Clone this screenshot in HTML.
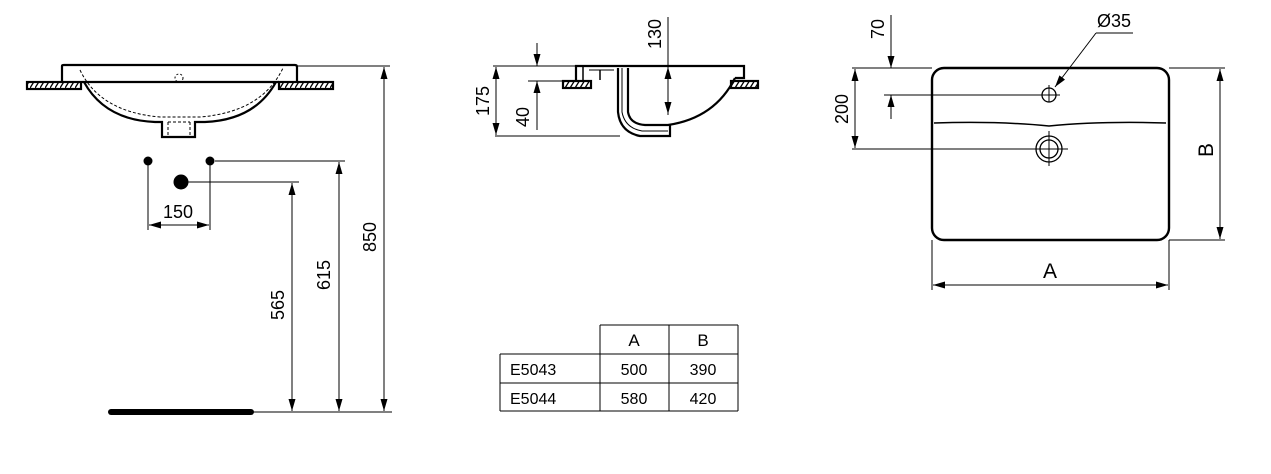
<!DOCTYPE html>
<html><head><style>
html,body{margin:0;padding:0;background:#fff;}
svg{display:block;font-family:"Liberation Sans",Arial,sans-serif;}
</style></head><body>
<svg width="1271" height="474" viewBox="0 0 1271 474" xmlns="http://www.w3.org/2000/svg">
<defs>
<marker id="ae" viewBox="0 0 12 7" refX="12" refY="3.5" markerWidth="12" markerHeight="7" orient="auto" markerUnits="userSpaceOnUse"><path d="M0,0 L12,3.5 L0,7 z" fill="#000"/></marker>
<marker id="as" viewBox="0 0 12 7" refX="0" refY="3.5" markerWidth="12" markerHeight="7" orient="auto" markerUnits="userSpaceOnUse"><path d="M12,0 L0,3.5 L12,7 z" fill="#000"/></marker>
<pattern id="hat" width="5" height="8" patternUnits="userSpaceOnUse"><rect width="5" height="8" fill="#fff"/><path d="M0,8 L5,0" stroke="#000" stroke-width="1.3"/></pattern>
</defs>
<g stroke="#000" fill="none">
<!-- LEFT VIEW -->
<rect x="27" y="82" width="54" height="7" fill="url(#hat)" stroke-width="2.2"/>
<rect x="279" y="82" width="54" height="7" fill="url(#hat)" stroke-width="2.2"/>
<path d="M62,82 L62,66 Q62,65 64,65 L295,65 Q297,65 297,67 L297,82" stroke-width="2.2"/>
<line x1="82" y1="82" x2="279" y2="82" stroke-width="2.2"/>
<path d="M84,82 Q105,120 155,122 L162,122 L162,137 L195,137 L195,122 L205,122 Q255,120 276,82" stroke-width="2.2"/>
<path d="M80,70 Q100,112 160,117 L200,117 Q262,112 283,68" stroke-dasharray="3,2" stroke-width="1"/>
<path d="M168,122 L168,135 M190,122 L190,135 M168,122 L190,122" stroke-dasharray="3,2" stroke-width="1"/>
<circle cx="179" cy="78" r="4" stroke-dasharray="2,2" stroke-width="1"/>
<g stroke-width="1">
<line x1="297" y1="66" x2="390" y2="66"/>
<line x1="215" y1="161" x2="345" y2="161"/>
<line x1="188" y1="182" x2="299" y2="182"/>
<line x1="148" y1="161" x2="148" y2="230"/>
<line x1="210" y1="161" x2="210" y2="230"/>
<line x1="149" y1="225" x2="209" y2="225" marker-start="url(#as)" marker-end="url(#ae)"/>
<line x1="292" y1="183" x2="292" y2="411" marker-start="url(#as)" marker-end="url(#ae)"/>
<line x1="339" y1="162" x2="339" y2="411" marker-start="url(#as)" marker-end="url(#ae)"/>
<line x1="384" y1="67" x2="384" y2="411" marker-start="url(#as)" marker-end="url(#ae)"/>
<line x1="252" y1="412" x2="392" y2="412"/>
</g>
<line x1="111" y1="412" x2="251" y2="412" stroke-width="6" stroke-linecap="round"/>
</g>
<circle cx="148" cy="161" r="4.5" fill="#000"/>
<circle cx="210" cy="161" r="4.5" fill="#000"/>
<circle cx="181" cy="182" r="7.5" fill="#000"/>
<g font-size="18" fill="#000">
<text x="178" y="218" text-anchor="middle">150</text>
<text transform="translate(284,305) rotate(-90)" text-anchor="middle">565</text>
<text transform="translate(330,275) rotate(-90)" text-anchor="middle">615</text>
<text transform="translate(376,237) rotate(-90)" text-anchor="middle">850</text>
</g>

<!-- MIDDLE VIEW -->
<g stroke="#000" fill="none">
<rect x="563" y="81" width="28" height="7" fill="url(#hat)" stroke-width="2.2"/>
<rect x="731" y="81" width="27" height="7" fill="url(#hat)" stroke-width="2.2"/>
<path d="M576,81 L576,66 L744,66 L744,78 L735,78" stroke-width="2.2"/>
<path d="M589,70 L614,70" stroke-width="1"/>
<path d="M628,68 L628,112 Q630,124 645,125 L668,125 Q715,118 735,78" stroke-width="2.2"/>
<path d="M618,68 L618,112 Q620,132 640,136 L670,136 L670,124" stroke-width="2.2"/>
<path d="M622,68 L622,112 Q625,128 642,131 L668,131" stroke-width="1"/>
<path d="M583,66 L583,80 M600,70 L600,80" stroke-width="1.5"/>
<g stroke-width="1">
<line x1="493" y1="66" x2="576" y2="66"/>
<line x1="528" y1="81" x2="565" y2="81"/>
<line x1="495" y1="136" x2="620" y2="136"/>
<line x1="496" y1="67" x2="496" y2="135" marker-start="url(#as)" marker-end="url(#ae)"/>
<line x1="537" y1="43" x2="537" y2="66" marker-end="url(#ae)"/>
<line x1="537" y1="130" x2="537" y2="81" marker-end="url(#ae)"/>
<line x1="668" y1="17" x2="668" y2="115"/>
<line x1="668" y1="67" x2="668" y2="114" marker-start="url(#as)" marker-end="url(#ae)"/>
</g>
</g>
<g font-size="18" fill="#000">
<text transform="translate(489,101) rotate(-90)" text-anchor="middle">175</text>
<text transform="translate(529,117) rotate(-90)" text-anchor="middle">40</text>
<text transform="translate(661,34) rotate(-90)" text-anchor="middle">130</text>
</g>

<!-- RIGHT VIEW -->
<g stroke="#000" fill="none">
<rect x="932" y="68" width="237" height="172" rx="12" stroke-width="2.4"/>
<path d="M934,123 Q1000,121 1049,126 Q1100,121 1166,123" stroke-width="1.5"/>
<circle cx="1049" cy="95" r="7" stroke-width="1.3"/>
<circle cx="1049" cy="149" r="13" stroke-width="1.3"/>
<circle cx="1049" cy="149" r="9" stroke-width="1.3"/>
<g stroke-width="1">
<line x1="852" y1="68" x2="932" y2="68"/>
<line x1="1169" y1="68" x2="1225" y2="68"/>
<line x1="1169" y1="240" x2="1225" y2="240"/>
<line x1="884" y1="95" x2="1060" y2="95"/>
<line x1="852" y1="149" x2="1068" y2="149"/>
<line x1="1049" y1="85" x2="1049" y2="102"/>
<line x1="1049" y1="131" x2="1049" y2="166"/>
<line x1="932" y1="240" x2="932" y2="290"/>
<line x1="1169" y1="240" x2="1169" y2="290"/>
<line x1="891" y1="15" x2="891" y2="68" marker-end="url(#ae)"/>
<line x1="891" y1="119" x2="891" y2="95" marker-end="url(#ae)"/>
<line x1="855" y1="69" x2="855" y2="148" marker-start="url(#as)" marker-end="url(#ae)"/>
<line x1="1220" y1="69" x2="1220" y2="239" marker-start="url(#as)" marker-end="url(#ae)"/>
<line x1="933" y1="285" x2="1168" y2="285" marker-start="url(#as)" marker-end="url(#ae)"/>
<line x1="1096" y1="33" x2="1055" y2="87" marker-end="url(#ae)"/>
<line x1="1096" y1="33" x2="1133" y2="33"/>
</g>
</g>
<g font-size="18" fill="#000">
<text transform="translate(884,29) rotate(-90)" text-anchor="middle">70</text>
<text transform="translate(848,109) rotate(-90)" text-anchor="middle">200</text>
<text x="1114" y="27" text-anchor="middle">Ø35</text>
<text x="1050" y="278" text-anchor="middle" font-size="21">A</text>
<text transform="translate(1213,150) rotate(-90)" text-anchor="middle" font-size="21">B</text>
</g>

<!-- TABLE -->
<g stroke="#000" stroke-width="1">
<line x1="600" y1="325" x2="738" y2="325"/>
<line x1="500" y1="354" x2="738" y2="354"/>
<line x1="500" y1="383" x2="738" y2="383"/>
<line x1="500" y1="411" x2="738" y2="411"/>
<line x1="500" y1="354" x2="500" y2="411"/>
<line x1="600" y1="325" x2="600" y2="411"/>
<line x1="669" y1="325" x2="669" y2="411"/>
<line x1="738" y1="325" x2="738" y2="411"/>
</g>
<g font-size="16" fill="#000">
<text x="634" y="346" text-anchor="middle" font-size="17">A</text>
<text x="703" y="346" text-anchor="middle" font-size="17">B</text>
<text x="510" y="375">E5043</text>
<text x="634" y="375" text-anchor="middle">500</text>
<text x="703" y="375" text-anchor="middle">390</text>
<text x="510" y="404">E5044</text>
<text x="634" y="404" text-anchor="middle">580</text>
<text x="703" y="404" text-anchor="middle">420</text>
</g>
</svg>
</body></html>
